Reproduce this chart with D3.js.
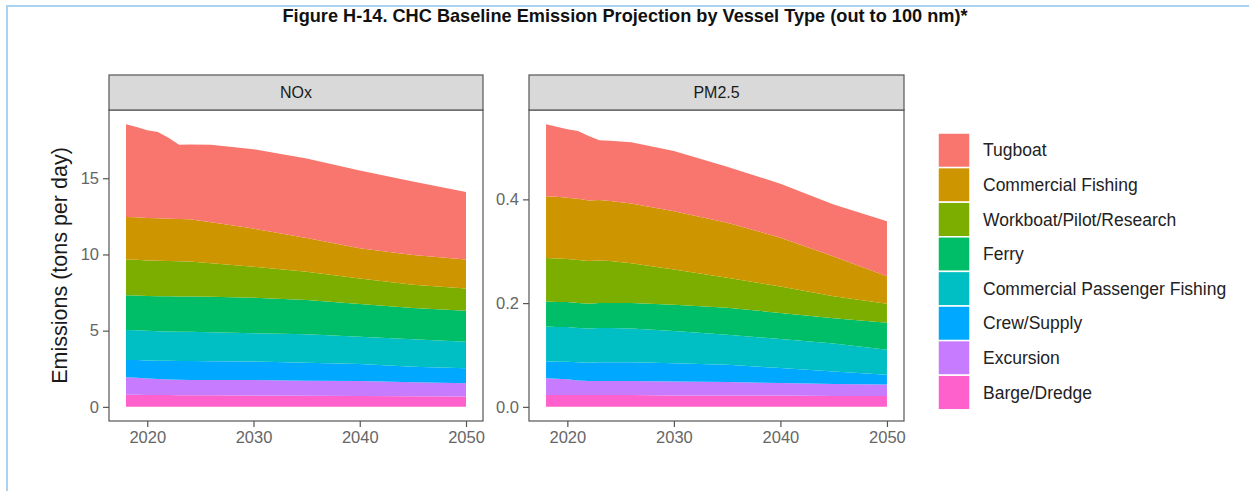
<!DOCTYPE html>
<html lang="en">
<head>
<meta charset="utf-8">
<script src="https://d3js.org/d3.v7.min.js"></script>
<style>
  body { margin: 0; background: #fff; }
  text { font-family: Arial, "Liberation Sans", sans-serif; }
</style>
</head>
<body>
<script>
// years (denser at the start where the top edge has kinks)
var years = [2018, 2019, 2020, 2021, 2022, 2023, 2024, 2026, 2030, 2035, 2040, 2045, 2050];

var vesselTypes = ["Tugboat", "Commercial Fishing", "Workboat/Pilot/Research", "Ferry",
                   "Commercial Passenger Fishing", "Crew/Supply", "Excursion", "Barge/Dredge"];
var vesselColors = ["#F8766D", "#CD9600", "#7CAE00", "#00BE67", "#00BFC4", "#00A9FF", "#C77CFF", "#FF61CC"];

var panelNames = ["NOx", "PM2.5"];

// NOx, tons per day
var noxTugboat   = [6.09, 5.93, 5.76, 5.66, 5.30, 4.88, 4.91, 5.08, 5.20, 5.22, 5.09, 4.81, 4.43];
var noxFishing   = [2.79, 2.79, 2.78, 2.78, 2.78, 2.77, 2.77, 2.70, 2.51, 2.22, 1.98, 1.96, 1.90];
var noxWorkboat  = [2.34, 2.34, 2.33, 2.33, 2.32, 2.31, 2.30, 2.20, 2.03, 1.85, 1.68, 1.53, 1.46];
var noxFerry     = [2.29, 2.29, 2.29, 2.30, 2.30, 2.31, 2.31, 2.33, 2.33, 2.25, 2.15, 2.05, 2.03];
var noxPassenger = [1.96, 1.95, 1.95, 1.94, 1.93, 1.92, 1.92, 1.90, 1.86, 1.86, 1.78, 1.79, 1.75];
var noxCrew      = [1.14, 1.16, 1.18, 1.20, 1.22, 1.23, 1.24, 1.22, 1.20, 1.18, 1.12, 1.02, 0.98];
var noxExcursion = [1.15, 1.12, 1.08, 1.04, 1.02, 1.01, 1.00, 1.01, 1.02, 0.99, 0.98, 0.92, 0.87];
var noxBarge     = [0.79, 0.79, 0.78, 0.78, 0.78, 0.77, 0.77, 0.76, 0.75, 0.73, 0.72, 0.70, 0.68];

// PM2.5, tons per day
var pmTugboat   = [0.139, 0.135, 0.132, 0.131, 0.124, 0.115, 0.116, 0.118, 0.116, 0.108, 0.104, 0.100, 0.106];
var pmFishing   = [0.119, 0.119, 0.118, 0.118, 0.117, 0.117, 0.116, 0.115, 0.112, 0.106, 0.094, 0.077, 0.053];
var pmWorkboat  = [0.084, 0.084, 0.083, 0.083, 0.082, 0.082, 0.081, 0.077, 0.068, 0.058, 0.051, 0.042, 0.037];
var pmFerry     = [0.048, 0.048, 0.048, 0.048, 0.048, 0.048, 0.048, 0.049, 0.051, 0.052, 0.050, 0.049, 0.052];
var pmPassenger = [0.067, 0.067, 0.067, 0.066, 0.066, 0.066, 0.066, 0.065, 0.062, 0.058, 0.056, 0.054, 0.048];
var pmCrew      = [0.033, 0.033, 0.034, 0.035, 0.035, 0.036, 0.036, 0.036, 0.035, 0.033, 0.029, 0.024, 0.019];
var pmExcursion = [0.032, 0.031, 0.030, 0.028, 0.027, 0.027, 0.027, 0.027, 0.027, 0.026, 0.024, 0.023, 0.022];
var pmBarge     = [0.023, 0.023, 0.023, 0.023, 0.023, 0.023, 0.023, 0.023, 0.022, 0.022, 0.022, 0.021, 0.021];

var xTicks = [2020, 2030, 2040, 2050];
var yTicksNox = [0, 5, 10, 15];
var yTicksPm = [0.0, 0.2, 0.4];

var width = 1249, height = 491;

var svg = d3.select("body").append("svg")
    .attr("width", width)
    .attr("height", height);

// light blue frame of the document figure
svg.append("path")
    .attr("d", "M7," + height + "V6H" + width)
    .attr("fill", "none")
    .attr("stroke", "#a9d3f1")
    .attr("stroke-width", 2);

svg.append("text")
    .attr("x", 625)
    .attr("y", 22)
    .attr("text-anchor", "middle")
    .attr("font-size", 19)
    .attr("font-weight", "bold")
    .attr("textLength", 685)
    .attr("lengthAdjust", "spacingAndGlyphs")
    .attr("fill", "#111")
    .text("Figure H-14. CHC Baseline Emission Projection by Vessel Type (out to 100 nm)*");

function buildRows(seriesList) {
    return years.map(function (yr, i) {
        var row = { year: yr };
        vesselTypes.forEach(function (v, k) { row[v] = seriesList[k][i]; });
        return row;
    });
}

var panels = [
    { name: "NOx", left: 109, right: 483, ticks: yTicksNox, fmt: d3.format("d"),
      rows: buildRows([noxTugboat, noxFishing, noxWorkboat, noxFerry, noxPassenger, noxCrew, noxExcursion, noxBarge]) },
    { name: "PM2.5", left: 529, right: 904, ticks: yTicksPm, fmt: d3.format(".1f"),
      rows: buildRows([pmTugboat, pmFishing, pmWorkboat, pmFerry, pmPassenger, pmCrew, pmExcursion, pmBarge]) }
];

var stripTop = 75, panelTop = 110, panelBottom = 421;

// Barge/Dredge at the bottom, Tugboat on top
var stack = d3.stack().keys(vesselTypes.slice().reverse());
var colorOf = d3.scaleOrdinal().domain(vesselTypes).range(vesselColors);

panels.forEach(function (p, pi) {
    var layers = stack(p.rows);
    var maxY = d3.max(layers[layers.length - 1], function (d) { return d[1]; });
    var padX = (2050 - 2018) * 0.05, padY = maxY * 0.05;

    var x = d3.scaleLinear().domain([2018 - padX, 2050 + padX]).range([p.left, p.right]);
    var y = d3.scaleLinear().domain([-padY, maxY + padY]).range([panelBottom, panelTop]);

    var g = svg.append("g");

    g.append("rect")
        .attr("x", p.left).attr("y", panelTop)
        .attr("width", p.right - p.left).attr("height", panelBottom - panelTop)
        .attr("fill", "#fff");

    var area = d3.area()
        .x(function (d) { return x(d.data.year); })
        .y0(function (d) { return y(d[0]); })
        .y1(function (d) { return y(d[1]); });

    g.selectAll("path.layer")
        .data(layers)
        .enter().append("path")
        .attr("class", "layer")
        .attr("d", area)
        .attr("fill", function (d) { return colorOf(d.key); });

    // panel border
    g.append("rect")
        .attr("x", p.left).attr("y", panelTop)
        .attr("width", p.right - p.left).attr("height", panelBottom - panelTop)
        .attr("fill", "none")
        .attr("stroke", "#555")
        .attr("stroke-width", 1.2);

    // facet strip
    g.append("rect")
        .attr("x", p.left).attr("y", stripTop)
        .attr("width", p.right - p.left).attr("height", panelTop - stripTop)
        .attr("fill", "#d9d9d9")
        .attr("stroke", "#555")
        .attr("stroke-width", 1.2);

    g.append("text")
        .attr("x", (p.left + p.right) / 2)
        .attr("y", (stripTop + panelTop) / 2)
        .attr("dy", "0.35em")
        .attr("text-anchor", "middle")
        .attr("font-size", 16)
        .attr("fill", "#1a1a1a")
        .text(p.name);

    var xAxis = g.append("g")
        .attr("transform", "translate(0," + panelBottom + ")")
        .call(d3.axisBottom(x).tickValues(xTicks).tickFormat(d3.format("d")).tickSize(6).tickPadding(4));

    var yAxis = g.append("g")
        .attr("transform", "translate(" + p.left + ",0)")
        .call(d3.axisLeft(y).tickValues(p.ticks).tickFormat(p.fmt).tickSize(6).tickPadding(4));

    [xAxis, yAxis].forEach(function (ax) {
        ax.select(".domain").remove();
        ax.selectAll("line").attr("stroke", "#555").attr("stroke-width", 1.2);
        ax.selectAll("text")
            .attr("fill", "#666")
            .attr("font-size", 16.5)
            .style("font-family", "Arial, 'Liberation Sans', sans-serif");
    });
});

svg.append("text")
    .attr("transform", "translate(67," + (panelTop + panelBottom) / 2 + ") rotate(-90)")
    .attr("text-anchor", "middle")
    .attr("font-size", 21.5)
    .attr("fill", "#1a1a1a")
    .text("Emissions (tons per day)");

// legend
var keyH = 34.6, keyW = 32, legendTop = 133, legendX = 938;

var legend = svg.append("g")
    .selectAll("g")
    .data(vesselTypes)
    .enter().append("g")
    .attr("transform", function (d, i) { return "translate(" + legendX + "," + (legendTop + i * keyH) + ")"; });

legend.append("rect")
    .attr("width", keyW)
    .attr("height", keyH)
    .attr("fill", function (d) { return colorOf(d); })
    .attr("stroke", "#fff")
    .attr("stroke-width", 1.5);

legend.append("text")
    .attr("x", 45)
    .attr("y", keyH / 2)
    .attr("dy", "0.35em")
    .attr("font-size", 17.5)
    .attr("fill", "#222")
    .text(function (d) { return d; });
</script>
</body>
</html>
